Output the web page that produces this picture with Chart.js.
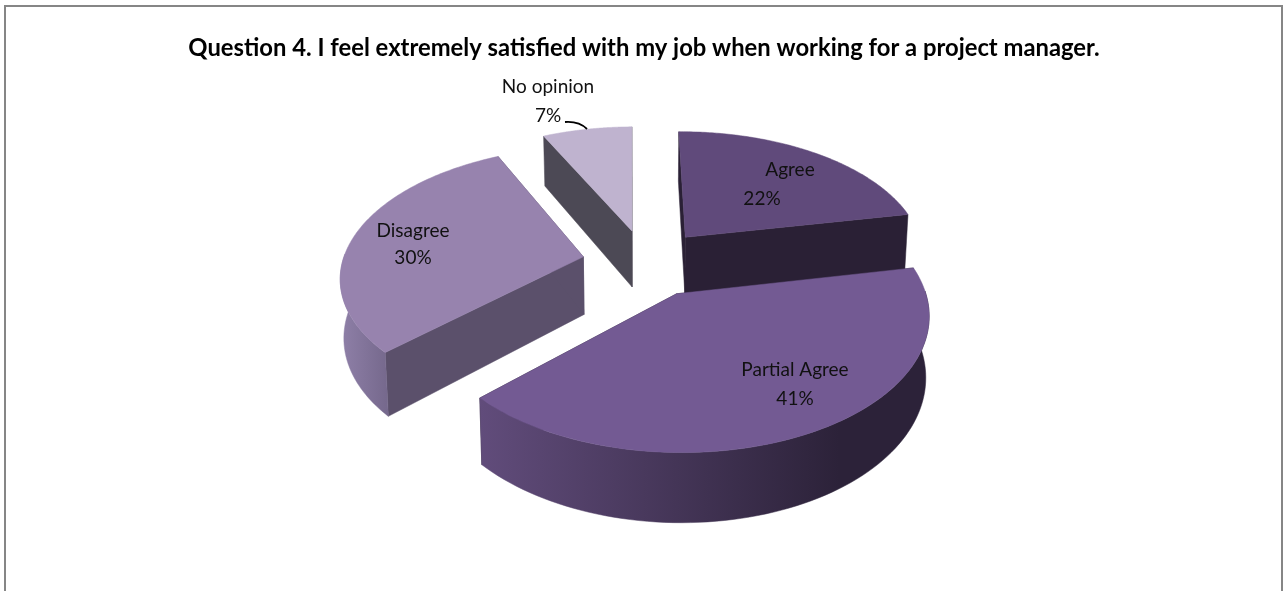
<!DOCTYPE html>
<html>
<head>
<meta charset="utf-8">
<style>
html,body{margin:0;padding:0;background:#fff}
#wrap{position:relative;width:1286px;height:591px}
</style>
<script src="https://cdn.jsdelivr.net/npm/chart.js@4/dist/chart.umd.min.js"></script>
</head>
<body>
<div id="wrap"><canvas id="c" width="1286" height="591"></canvas></div>
<script>
// Survey answers, in percent
const categories = ['Agree', 'Partial Agree', 'Disagree', 'No opinion'];
const shares = [22, 41, 30, 7];
const titleText = 'Question 4. I feel extremely satisfied with my job when working for a project manager.';

// Slice colours
const topColors = ['#604a7b', '#735a93', '#9783ae', '#bfb3cf'];
const cutColors = ['#2a2035', '#2a2035', '#5b506b', '#4c4955'];
const wallLeft  = ['#2a2035', '#614c7b', '#8f80a8', '#4c4955'];
const wallRight = ['#2a2035', '#2c2239', '#75688c', '#4c4955'];

// View of the tilted disc, in pixels at the disc's plane
const view = { dx: 2, rx: 241, ry: 127, k: 0.14, depth: 58, converge: 0.012 };

// Text placement for each slice's label: centre x and middle y of name and value
const labelAt = [
  { x: [790, 762], y: [170, 199] },
  { x: [795, 795], y: [370, 399] },
  { x: [413, 413], y: [231, 258] },
  { x: [548, 548], y: [87, 116] }
];

const tiltedPie = {
  id: 'tiltedPie',
  beforeDraw(chart) {
    const { ctx, width } = chart;
    ctx.save();
    ctx.fillStyle = '#fff';
    ctx.fillRect(0, 0, chart.width, chart.height);
    ctx.strokeStyle = '#868686';
    ctx.lineWidth = 2;
    ctx.beginPath();
    ctx.moveTo(5, 600);
    ctx.lineTo(5, 6);
    ctx.lineTo(width - 4, 6);
    ctx.lineTo(width - 4, 600);
    ctx.stroke();
    ctx.restore();
  },
  beforeDatasetDraw(chart) {
    const { ctx } = chart;
    const arcs = chart.getDatasetMeta(0).data;
    const first = arcs[0];
    const R = first.outerRadius;
    const cx = first.x + view.dx, cy = first.y;

    const project = (u, v, z) => {
      const w = 1 - view.k * v;
      return [
        cx + view.rx * u / w * (1 - z * view.converge),
        cy + view.ry * v / w + z * view.depth / w
      ];
    };

    const geometry = arcs.map(arc => {
      const mid = (arc.startAngle + arc.endAngle) / 2;
      const e = arc.options.offset / R;
      return {
        s: arc.startAngle, t: arc.endAngle, mid,
        u0: Math.cos(mid) * e, v0: Math.sin(mid) * e
      };
    });

    const order = arcs.map((_, i) => i).sort((a, b) => geometry[a].v0 - geometry[b].v0);
    const poly = (pts, fill) => {
      ctx.beginPath();
      pts.forEach((p, i) => i ? ctx.lineTo(p[0], p[1]) : ctx.moveTo(p[0], p[1]));
      ctx.closePath();
      ctx.fillStyle = fill;
      ctx.fill();
      ctx.strokeStyle = fill;
      ctx.lineWidth = 0.5;
      ctx.stroke();
    };
    const rim = (g, a, z) => project(g.u0 + Math.cos(a), g.v0 + Math.sin(a), z);

    order.forEach(i => {
      const g = geometry[i];
      const apexTop = project(g.u0, g.v0, 0), apexBot = project(g.u0, g.v0, 1);

      // the two flat cut faces
      poly([apexTop, rim(g, g.s, 0), rim(g, g.s, 1), apexBot], cutColors[i]);
      poly([apexTop, rim(g, g.t, 0), rim(g, g.t, 1), apexBot], cutColors[i]);

      // outer wall, only the stretch that faces the viewer
      const from = Math.max(g.s, -0.02), to = Math.min(g.t, Math.PI + 0.02);
      const steps = 80;
      const sample = (lo, hi, z) => {
        const out = [];
        for (let n = 0; n <= steps; n++) out.push(rim(g, lo + (hi - lo) * n / steps, z));
        return out;
      };
      if (from < to) {
        const up = sample(from, to, 0), down = sample(from, to, 1).reverse();
        const pts = up.concat(down);
        const xs = pts.map(p => p[0]);
        const grad = ctx.createLinearGradient(Math.min(...xs), 0, Math.max(...xs), 0);
        grad.addColorStop(0, wallLeft[i]);
        grad.addColorStop(i === 1 ? 0.8 : 1, wallRight[i]);
        grad.addColorStop(1, wallRight[i]);
        poly(pts, grad);
      }

      // top face
      const face = [apexTop];
      for (let n = 0; n <= 120; n++) face.push(rim(g, g.s + (g.t - g.s) * n / 120, 0));
      poly(face, arcs[i].options.backgroundColor);
    });
    return false;
  },
  afterDatasetsDraw(chart) {
    const { ctx } = chart;
    const values = chart.data.datasets[0].data;
    ctx.save();
    ctx.fillStyle = '#111';
    ctx.font = '19px Lato';
    ctx.textAlign = 'center';
    ctx.textBaseline = 'middle';
    chart.data.labels.forEach((name, i) => {
      const at = labelAt[i];
      ctx.fillText(name, at.x[0], at.y[0]);
      ctx.fillText(values[i] + '%', at.x[1], at.y[1]);
    });
    // leader line from the smallest slice to its label
    ctx.strokeStyle = '#000';
    ctx.lineWidth = 1.8;
    ctx.beginPath();
    ctx.moveTo(565, 122);
    ctx.quadraticCurveTo(579, 121, 587, 129);
    ctx.stroke();
    ctx.restore();
  }
};

new Chart(document.getElementById('c'), {
  type: 'pie',
  data: {
    labels: categories,
    datasets: [{
      data: shares,
      backgroundColor: topColors,
      borderWidth: 0,
      offset: 47
    }]
  },
  options: {
    responsive: false,
    animation: false,
    rotation: -0.5,
    layout: { padding: { left: 2, right: 0, top: 0, bottom: 128 } },
    plugins: {
      legend: { display: false },
      tooltip: { enabled: false },
      title: {
        display: true,
        text: titleText,
        color: '#000',
        font: { family: 'Lato', size: 23.8, weight: 'bold' },
        padding: { top: 34, bottom: 0 }
      }
    }
  },
  plugins: [tiltedPie]
});
</script>
</body>
</html>
